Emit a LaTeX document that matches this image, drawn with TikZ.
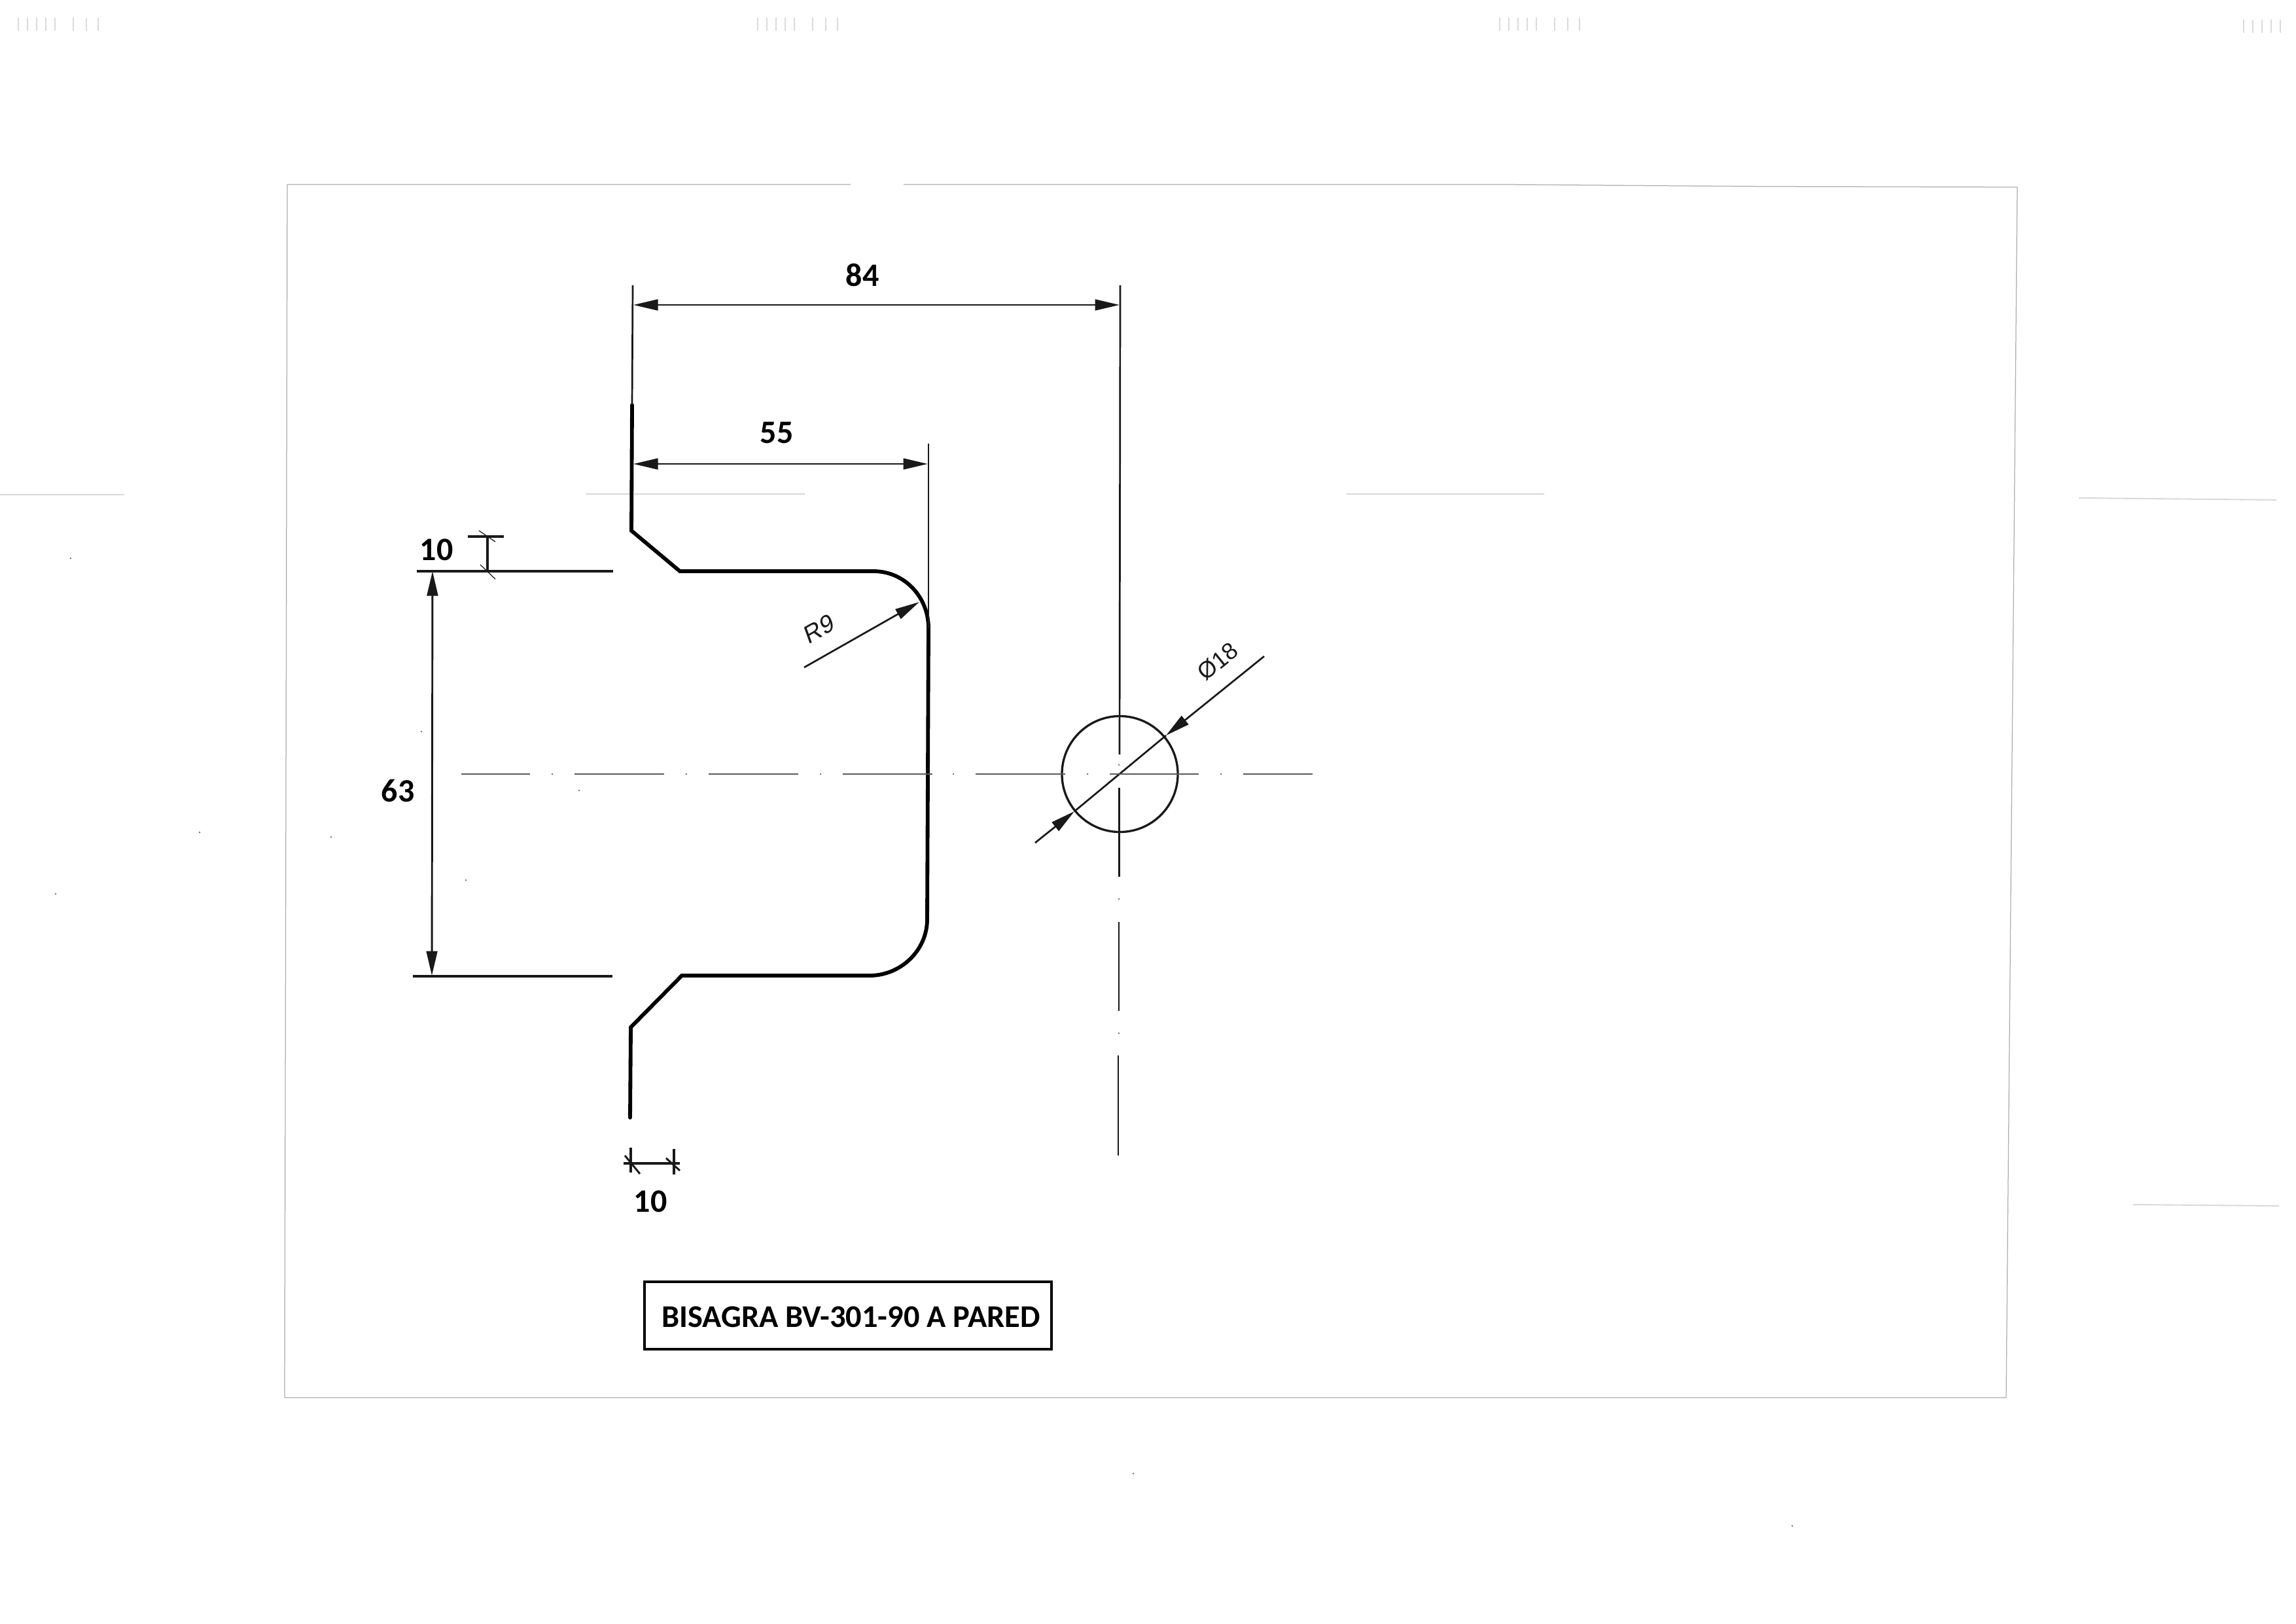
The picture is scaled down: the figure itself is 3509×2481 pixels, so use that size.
\documentclass[tikz,border=0pt]{standalone}
\usepackage{fontspec}
\setmainfont{Carlito}
\newfontfamily\dimfont[FakeSlant=0.18]{Liberation Sans}
\newfontfamily\dimfontup{Liberation Sans}
\usetikzlibrary{arrows.meta}
\definecolor{inkdark}{gray}{0.1}
\definecolor{framegray}{gray}{0.68}
\definecolor{faint}{gray}{0.86}
\definecolor{centergray}{gray}{0.35}
\tikzset{
  outline/.style={line width=1.4pt,draw=black,line join=miter,line cap=round},
  extline/.style={line width=0.65pt,draw=inkdark},
  dimline/.style={line width=0.7pt,draw=inkdark,{Triangle[length=9pt,width=4pt]}-{Triangle[length=9pt,width=4pt]}},
  leader/.style={line width=0.65pt,draw=inkdark,-{Triangle[length=9pt,width=4pt]}},
  centre/.style={line width=0.6pt,draw=centergray},
  framel/.style={line width=0.3pt,draw=framegray},
  ghost/.style={line width=0.5pt,draw=faint},
  numlabel/.style={font=\fontsize{12}{13}\selectfont\bfseries,text=black,inner sep=0pt},
  cadlabel/.style={text=inkdark,inner sep=0pt},
  speck/.style={fill=centergray,draw=none,inner sep=0pt,minimum size=0.6pt,circle},
}
\begin{document}
\begin{tikzpicture}[x=0.24pt,y=-0.24pt]
\useasboundingbox (0,0) rectangle (3509,2481);
% sheet frame
\draw[framel] (1300,282) -- (439,282) -- (435,2136) -- (3066,2136) -- (3083,286) -- (2700,285) -- (2300,282) -- (1381,282);
% scan residue
\draw[ghost] (0,756) -- (190,756) (895,755) -- (1230,755) (2058,755) -- (2360,755) (3177,761) -- (3479,764) (3260,1841) -- (3483,1843);
\foreach \bx/\by in {22/27,1152/27,2286/27,3423/30}{
  \foreach \dx in {6,20,34,48,62,90,110,128}{
    \draw[line width=0.35pt,draw=faint] (\bx+\dx,\by) -- (\bx+\dx,\by+20);
  }
}
% part outline
\coordinate (a0) at (966,619);
\coordinate (a1) at (965,811);
\coordinate (a2) at (1039,873);
\coordinate (a3) at (1335,873);
\coordinate (a4) at (1419,960);
\coordinate (a5) at (1417,1405);
\coordinate (a6) at (1329,1491);
\coordinate (a7) at (1042,1491);
\coordinate (a8) at (964,1570);
\coordinate (a9) at (963,1708);
\draw[outline] (a0) -- (a1) -- (a2) -- (a3) .. controls (1382,873) and (1419,912) .. (a4) -- (a5) .. controls (1417,1453) and (1376,1491) .. (a6) -- (a7) -- (a8) -- (a9);
% extension lines
\coordinate (e84a) at (967,436);
\coordinate (e84b) at (1712,436);
\coordinate (e84c) at (1711,1153);
\coordinate (e55a) at (1419,678);
\draw[extline] (e84a) -- (a0);
\draw[extline] (e84b) -- (e84c);
\draw[extline] (e55a) -- (a4);
\coordinate (u1) at (637,873);
\coordinate (u2) at (937,873);
\coordinate (l1) at (631,1492);
\coordinate (l2) at (936,1492);
\draw[extline,line width=0.75pt] (u1) -- (u2);
\draw[extline,line width=0.75pt] (l1) -- (l2);
% dimensions
\coordinate (d84a) at (968,466);
\coordinate (d84b) at (1711,466);
\draw[dimline] (d84a) -- (d84b);
\node[numlabel] (t84) at (1318,420) {84};
\coordinate (d55a) at (968,709);
\coordinate (d55b) at (1418,709);
\draw[dimline] (d55a) -- (d55b);
\node[numlabel] (t55) at (1187,661) {55};
\coordinate (d63a) at (661,873);
\coordinate (d63b) at (660,1491);
\draw[dimline] (d63a) -- (d63b);
\node[numlabel] (t63) at (608,1209) {63};
% 10 at the top
\coordinate (t10a) at (745,820);
\coordinate (t10b) at (745,873);
\coordinate (t10l) at (715,820);
\coordinate (t10r) at (770,820);
\draw[extline,line width=0.8pt] (t10a) -- (t10b);
\draw[extline,line width=0.9pt] (t10l) -- (t10r);
\draw[extline,line width=0.3pt] (732,811) -- (757,828) (734,863) -- (757,885);
\node[numlabel] (t10u) at (667,840) {10};
% 10 at the bottom
\coordinate (b10a) at (953,1778);
\coordinate (b10b) at (1039,1778);
\draw[extline,line width=0.9pt] (b10a) -- (b10b);
\draw[extline,line width=0.9pt] (964,1754) -- (964,1792) (1030,1756) -- (1030,1795);
\draw[extline,line width=0.7pt] (955,1766) -- (978,1794) (1018,1770) -- (1039,1789);
\node[numlabel] (b10) at (994,1836) {10};
% R9
\coordinate (r1) at (1229,1020);
\coordinate (r2) at (1405,920);
\draw[leader] (r1) -- (r2);
\node[cadlabel,rotate=30,font=\fontsize{9}{11}\dimfont] (tr9) at (1250,962) {R9};
% hole
\coordinate (hc) at (1711.5,1183);
\node[circle,draw=inkdark,line width=0.8pt,minimum size=42.5pt,inner sep=0pt] (hole) at (hc) {};
\coordinate (q1) at (1582,1288);
\coordinate (q2) at (1642,1240);
\coordinate (q3) at (1782,1124);
\coordinate (q4) at (1932,1003);
\draw[leader] (q1) -- (q2);
\draw[leader] (q4) -- (q3);
\draw[extline] (q2) -- (q3);
\node[cadlabel,rotate=39,font=\fontsize{8.6}{10}\dimfontup] (td) at (1861,1011) {Ø18};
% centre lines
\foreach \xa/\xb in {705/810,878/1015,1083/1220,1288/1425,1491/1628,1696/1832,1900/2006}{
  \draw[centre] (\xa,1183) -- (\xb,1183);
}
\foreach \xd in {844,1049,1254,1457,1662,1866}{
  \node[speck] at (\xd,1183) {};
}
\foreach \ya/\yb/\xx in {1204/1340/1710.5,1409/1545/1710,1613/1766/1709}{
  \draw[extline,line width=0.5pt] (\xx,\ya) -- (\xx,\yb);
}
\foreach \yd in {1169,1374,1579}{
  \node[speck] at (1710,\yd) {};
}
% specks
\foreach \sx/\sy in {108/853,644/1118,712/1345,885/1208,305/1272,506/1279,85/1366,1732/2252,2739/2332}{
  \node[speck] at (\sx,\sy) {};
}
% title
\node[draw=black,line width=0.95pt,minimum width=149.3pt,minimum height=24.7pt,inner sep=0pt] (titlebox) at (1296,2010.5) {};
\node[inner sep=0pt,font=\fontsize{11.6}{13}\selectfont\bfseries] (title) at (1300.5,2013) {BISAGRA BV-301-90 A PARED};
\end{tikzpicture}
\end{document}
